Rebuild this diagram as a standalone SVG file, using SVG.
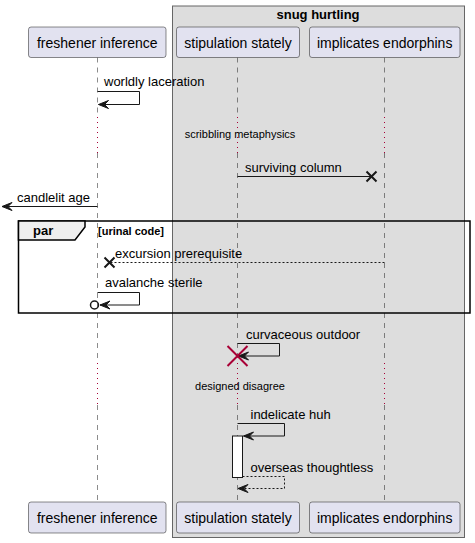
<svg xmlns="http://www.w3.org/2000/svg" width="475" height="543" viewBox="0 0 475 543">
<defs>
<style>
text{font-family:"Liberation Sans",Arial,sans-serif;fill:#000}
.pt{font-size:14px;text-anchor:middle}
.msg{font-size:13px}
.dl{font-size:11px;text-anchor:middle}
.part{fill:#E2E2F0;stroke:#181818;stroke-width:0.5}
.life{stroke:#181818;stroke-width:0.5;stroke-dasharray:5,5;fill:none}
.delay{stroke:#A80036;stroke-width:1;stroke-dasharray:1,4;fill:none}
.ln{stroke:#181818;stroke-width:1;fill:none}
.dash{stroke:#181818;stroke-width:1;fill:none;stroke-dasharray:2,2}
.ah{fill:#181818;stroke:#181818;stroke-width:1}
.x{stroke:#181818;stroke-width:2}
</style>
</defs>
<g id="box-snug-hurtling">
<rect x="172.5" y="6" width="292" height="531.5" fill="#DDDDDD" stroke="#666666" stroke-width="1"/>
<text x="318" y="19" style="font-size:13px;font-weight:bold" text-anchor="middle">snug hurtling</text>
</g>
<g id="lifelines">
<path class="life" d="M97.5,57.5 V117 M97.5,153 V363 M97.5,405 V502"/>
<path class="delay" d="M97.5,117 V153 M97.5,363 V405"/>
<path class="life" d="M237.5,57.5 V117 M237.5,153 V363 M237.5,405 V502"/>
<path class="delay" d="M237.5,117 V153 M237.5,363 V405"/>
<path class="life" d="M384.5,57.5 V117 M384.5,153 V363 M384.5,405 V502"/>
<path class="delay" d="M384.5,117 V153 M384.5,363 V405"/>
</g>
<g id="delays">
<text class="dl" x="240" y="138">scribbling metaphysics</text>
<text class="dl" x="240" y="390">designed disagree</text>
</g>
<g id="p-freshener-inference">
<rect class="part" x="28.5" y="27" width="137.5" height="30.5" rx="2.5"/>
<text class="pt" x="97.3" y="47.5">freshener inference</text>
<rect class="part" x="28.5" y="502" width="137.5" height="31" rx="2.5"/>
<text class="pt" x="97.3" y="522.5">freshener inference</text>
</g>
<g id="p-stipulation-stately">
<rect class="part" x="176.5" y="27" width="123" height="30.5" rx="2.5"/>
<text class="pt" x="238" y="47.5">stipulation stately</text>
<rect class="part" x="176.5" y="502" width="123" height="31" rx="2.5"/>
<text class="pt" x="238" y="522.5">stipulation stately</text>
</g>
<g id="p-implicates-endorphins">
<rect class="part" x="309.5" y="27" width="150.5" height="30.5" rx="2.5"/>
<text class="pt" x="384.7" y="47.5">implicates endorphins</text>
<rect class="part" x="309.5" y="502" width="150.5" height="31" rx="2.5"/>
<text class="pt" x="384.7" y="522.5">implicates endorphins</text>
</g>
<g id="par-frame">
<rect x="18.5" y="221" width="451.5" height="92" fill="none" stroke="#000" stroke-width="1.5"/>
<path d="M18.5,221 H85 V227 L75,240 H18.5 Z" fill="#EEEEEE" stroke="#000" stroke-width="1.5"/>
<text x="33" y="235" style="font-size:13px;font-weight:bold">par</text>
<text x="98" y="235" style="font-size:11px;font-weight:bold">[urinal code]</text>
</g>
<g id="activation">
<rect x="232.5" y="436" width="10" height="41.5" fill="#FFFFFF" stroke="#181818" stroke-width="1"/>
</g>
<g id="connectors">
<path class="ln" d="M97.5,91.5 H139.5 V104.5 H98.5"/>
<polygon class="ah" points="108.5,100.5 98.5,104.5 108.5,108.5 104.5,104.5"/>
<text class="msg" x="104" y="86">worldly laceration</text>

<path class="ln" d="M237.5,176.5 H371.5"/>
<path class="x" d="M366.5,171.5 L376.5,181.5 M366.5,181.5 L376.5,171.5"/>
<text class="msg" x="245" y="172">surviving column</text>

<path class="ln" d="M97.5,206.5 H2"/>
<polygon class="ah" points="12,202.5 2,206.5 12,210.5 8,206.5"/>
<text class="msg" x="17" y="202">candlelit age</text>

<path class="dash" d="M384.5,262.5 H110"/>
<path class="x" d="M104.5,257.5 L114.5,267.5 M104.5,267.5 L114.5,257.5"/>
<text class="msg" x="115" y="258">excursion prerequisite</text>

<path class="ln" d="M97.5,292.5 H139.5 V305 H100"/>
<polygon class="ah" points="110,301 100,305 110,309 106,305"/>
<circle cx="94.5" cy="305" r="4" fill="none" stroke="#181818" stroke-width="1.5"/>
<text class="msg" x="105" y="287">avalanche sterile</text>

<path class="ln" d="M237.5,343.5 H279.5 V356 H238.5"/>
<polygon class="ah" points="248.5,352 238.5,356 248.5,360 244.5,356"/>
<path d="M227.5,346 L247.5,366 M227.5,366 L247.5,346" stroke="#A80036" stroke-width="2"/>
<text class="msg" x="246" y="339">curvaceous outdoor</text>

<path class="ln" d="M237.5,423.5 H284.5 V436 H243.5"/>
<polygon class="ah" points="253.5,432 243.5,436 253.5,440 249.5,436"/>
<text class="msg" x="250.5" y="419">indelicate huh</text>

<path class="dash" d="M242.5,476.5 H284.5 V488.5 H238"/>
<polygon class="ah" points="248,484.5 238,488.5 248,492.5 244,488.5"/>
<text class="msg" x="250.5" y="472">overseas thoughtless</text>
</g>
</svg>
